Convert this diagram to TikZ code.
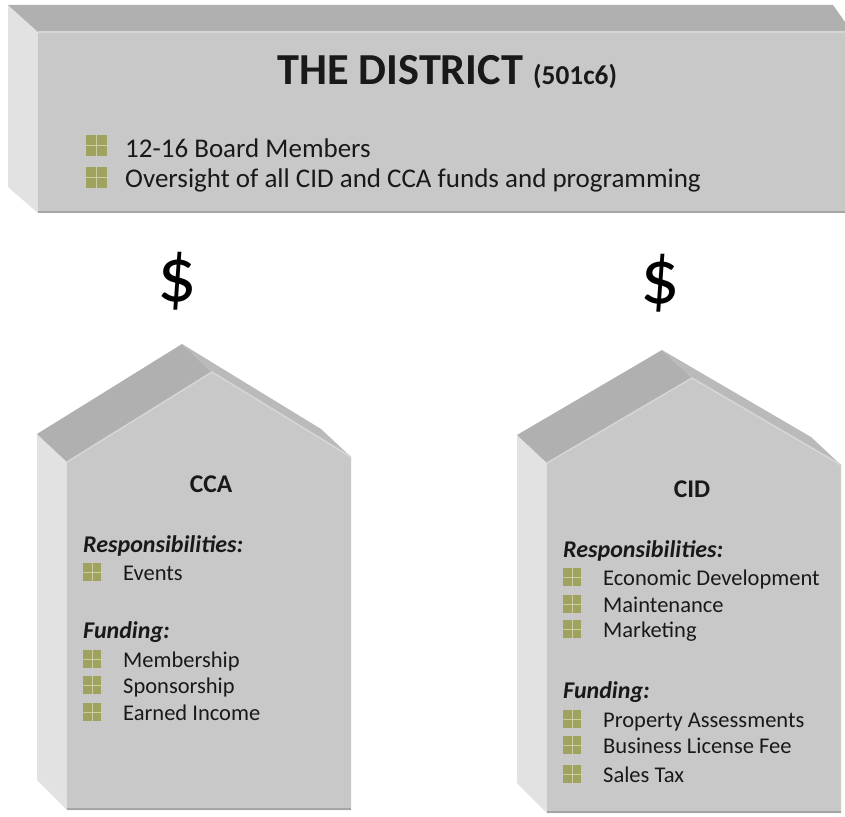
\documentclass[tikz,border=0pt]{standalone}
\usepackage{fontspec}
\setmainfont{Carlito}
\definecolor{frontface}{RGB}{200,200,200}
\definecolor{topface}{RGB}{176,176,176}
\definecolor{roofface}{RGB}{186,186,186}
\definecolor{sideface}{RGB}{226,226,226}
\definecolor{rimcol}{RGB}{214,214,214}
\definecolor{basecol}{RGB}{165,165,165}
\definecolor{olivesq}{RGB}{160,162,96}
\definecolor{olivecross}{RGB}{205,205,160}
\definecolor{txt}{RGB}{25,25,25}

% Extruded house shape: front face, left side, roof slopes.
% #1 left x, #2 right x, #3 left wall top y, #4 right wall top y,
% #5 apex x, #6 apex y, #7 bottom y
\newcommand{\drawhouse}[7]{%
  \fill[sideface] (#1,#7) -- (#1,#3) -- ({#1-30},{#3-28}) -- ({#1-30},{#7-30}) -- cycle;
  \fill[topface] (#1,#3) -- ({#1-30},{#3-28}) -- ({#5-30},{#6-28}) -- (#5,#6) -- cycle;
  \fill[roofface] (#5,#6) -- ({#5-30},{#6-28}) -- ({#2-30},{#4-28}) -- (#2,#4) -- cycle;
  \fill[frontface] (#1,#7) -- (#1,#3) -- (#5,#6) -- (#2,#4) -- (#2,#7) -- cycle;
  \draw[rimcol, line width=1.5pt] (#1,#3) -- (#5,#6) -- (#2,#4);
  \draw[basecol, line width=2pt] (#1,{#7-1}) -- (#2,{#7-1});
}

\tikzset{
  sqbullet/.style={rectangle, fill=olivesq, minimum width=#1, minimum height=#1,
    inner sep=0pt, outer sep=0pt,
    path picture={\draw[olivecross, line width=1pt]
      (path picture bounding box.north) -- (path picture bounding box.south)
      (path picture bounding box.west) -- (path picture bounding box.east);}},
  bigtxt/.style={inner sep=0pt, anchor=base west, text=txt, font=\fontsize{27}{27}\selectfont},
  itemtxt/.style={inner sep=0pt, anchor=base west, text=txt, font=\fontsize{22.5}{22.5}\selectfont},
  headtxt/.style={inner sep=0pt, anchor=base west, text=txt, font=\fontsize{24}{24}\selectfont\bfseries\itshape},
  nametxt/.style={inner sep=0pt, anchor=base, text=txt, font=\fontsize{25.5}{25.5}\selectfont\bfseries},
  dollar/.style={inner sep=0pt, anchor=center, text=black, font=\fontsize{78}{78}\selectfont},
}

\begin{document}
\begin{tikzpicture}[x=1pt,y=-1pt]
\useasboundingbox (0,0) rectangle (845,816);
\fill[white] (0,0) rectangle (845,816);
\begin{scope}
\clip (0,0) rectangle (845,816);

% The District block
\fill[sideface] (8,5) -- (38,32) -- (38,213) -- (8,187) -- cycle;
\fill[topface] (8,5) -- (833,5) -- (852,32) -- (38,32) -- cycle;
\fill[frontface] (38,32) rectangle (852,213);
\draw[rimcol, line width=1.5pt] (38,32) -- (852,32);
\draw[basecol, line width=2pt] (38,212) -- (852,212);

\node[inner sep=0pt, anchor=base west, text=txt, font=\fontsize{44.3}{44.3}\selectfont\bfseries]
  (title) at (277,84) {THE DISTRICT};
\node[inner sep=0pt, anchor=base west, text=txt, font=\fontsize{27.3}{27.3}\selectfont\bfseries]
  (status) at (533,84) {(501c6)};

\node[sqbullet=21pt] (tb1) at (96.5,145) {};
\node[sqbullet=21pt] (tb2) at (96.5,177) {};
\node[bigtxt] (board) at (125,157) {12-16 Board Members};
\node[bigtxt] (oversight) at (125,187) {Oversight of all CID and CCA funds and programming};

% Money flow marks
\node[dollar] (dollarcca) at (177,281) {\$};
\node[dollar] (dollarcid) at (660,283) {\$};

% CCA house
\drawhouse{67}{351}{462}{457}{212}{372}{810}
\node[nametxt] (ccaname) at (211,492) {CCA};
\node[headtxt] (ccaresp) at (83,552) {Responsibilities:};
\node[sqbullet=17.5pt] (cb1) at (92,572) {};
\node[itemtxt] (events) at (123,580) {Events};
\node[headtxt] (ccafund) at (83,638) {Funding:};
\node[sqbullet=17.5pt] (cb2) at (92,659) {};
\node[sqbullet=17.5pt] (cb3) at (92,685) {};
\node[sqbullet=17.5pt] (cb4) at (92,712) {};
\node[itemtxt] (membership) at (123,667) {Membership};
\node[itemtxt] (sponsorship) at (123,693) {Sponsorship};
\node[itemtxt] (earned) at (123,720) {Earned Income};

% CID house
\drawhouse{547}{841}{463}{465}{692}{378}{813}
\node[nametxt] (cidname) at (692,497) {CID};
\node[headtxt] (cidresp) at (563,557) {Responsibilities:};
\node[sqbullet=17.5pt] (db1) at (572,577) {};
\node[sqbullet=17.5pt] (db2) at (572,604) {};
\node[sqbullet=17.5pt] (db3) at (572,629) {};
\node[itemtxt] (econ) at (603,585) {Economic Development};
\node[itemtxt] (maint) at (603,612) {Maintenance};
\node[itemtxt] (marketing) at (603,637) {Marketing};
\node[headtxt] (cidfund) at (563,698) {Funding:};
\node[sqbullet=17.5pt] (db4) at (572,719) {};
\node[sqbullet=17.5pt] (db5) at (572,745) {};
\node[sqbullet=17.5pt] (db6) at (572,774) {};
\node[itemtxt] (property) at (603,727) {Property Assessments};
\node[itemtxt] (license) at (603,753) {Business License Fee};
\node[itemtxt] (sales) at (603,782) {Sales Tax};
\end{scope}
\end{tikzpicture}
\end{document}
